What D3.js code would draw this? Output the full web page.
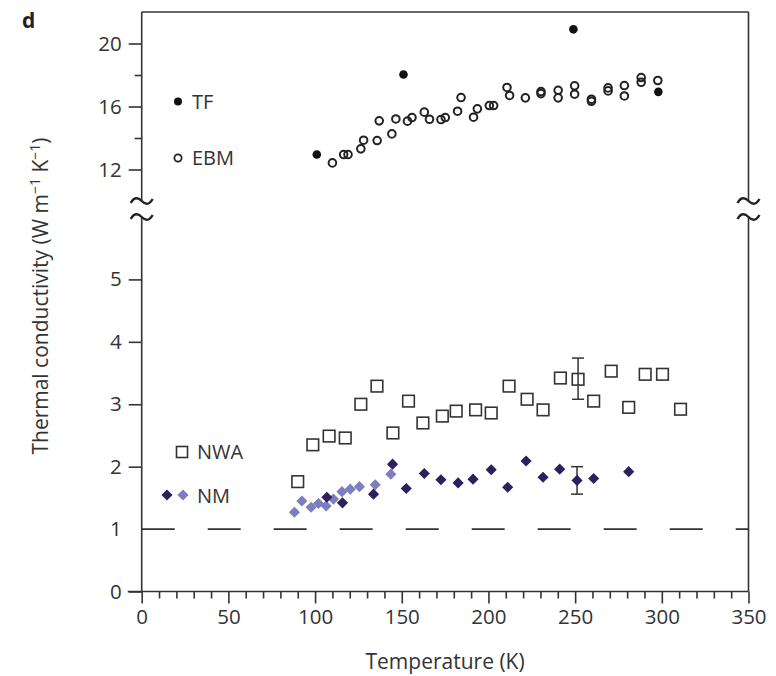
<!DOCTYPE html>
<html>
<head>
<meta charset="utf-8">
<script src="https://cdn.jsdelivr.net/npm/d3@7"></script>
<style>
  body { margin: 0; background: #fff; }
  svg { display: block; font-family: "Open Sans", sans-serif; }
  .tick text { fill: #333; font-size: 20.5px; }
</style>
</head>
<body>
<div id="chart"></div>
<script>
// TF (filled circles)
const tfT = [101, 151, 249, 298];
const tfK = [12.95, 18.03, 20.9, 16.93];

// EBM (open circles)
const ebmT = [110, 116.5, 119, 126.4, 128, 135.8, 137, 144.3, 146.6, 153.3, 155.9, 163, 166, 172.6, 175.1,
  182.2, 184.2, 191.4, 193.6, 200.5, 203, 210.7, 212.2, 221.3, 230.3, 230.3, 240.2, 240.2, 249.7, 249.7,
  259.4, 259.4, 269, 269, 278.4, 278.4, 288.1, 288.1, 297.7];
const ebmK = [12.42, 12.95, 12.95, 13.31, 13.86, 13.84, 15.09, 14.26, 15.21, 15.07, 15.3, 15.64, 15.19, 15.17, 15.3,
  15.7, 16.57, 15.32, 15.85, 16.06, 16.06, 17.21, 16.7, 16.55, 16.95, 16.82, 17.03, 16.55, 17.31, 16.78,
  16.46, 16.33, 17.18, 16.99, 17.33, 16.67, 17.84, 17.54, 17.65];

// NWA (open squares)
const nwaT = [90, 98.7, 108.1, 117.4, 126.4, 135.7, 144.9, 153.9, 162.2, 173.4, 181.4, 192.6, 201.6, 211.9,
  222.3, 231.5, 241.5, 251.7, 260.7, 270.8, 280.9, 290.4, 300.4, 310.8];
const nwaK = [1.76, 2.35, 2.49, 2.46, 3.0, 3.29, 2.54, 3.05, 2.70, 2.81, 2.89, 2.91, 2.86, 3.29,
  3.08, 2.91, 3.42, 3.40, 3.05, 3.53, 2.95, 3.48, 3.48, 2.92];

// NM, dark diamonds
const nmDarkT = [106.8, 115.8, 133.7, 144.7, 152.6, 163, 172.6, 182.5, 191.1, 201.6, 211.1, 221.7, 231.5,
  241.1, 251.1, 260.7, 280.9];
const nmDarkK = [1.51, 1.42, 1.56, 2.04, 1.65, 1.89, 1.79, 1.74, 1.80, 1.95, 1.67, 2.09, 1.83,
  1.96, 1.78, 1.81, 1.92];

// NM, light diamonds
const nmLightT = [88.1, 92.4, 97.7, 102, 106.4, 110.6, 115.5, 120.3, 125.6, 134.7, 143.7];
const nmLightK = [1.27, 1.45, 1.35, 1.41, 1.37, 1.48, 1.60, 1.64, 1.68, 1.71, 1.88];

// error bars: [T, low, high]
const errBars = [[251.7, 3.08, 3.74], [251.1, 1.56, 2.0]];

const xTicks = [0, 50, 100, 150, 200, 250, 300, 350];
const yLowTicks = [0, 1, 2, 3, 4, 5];
const yHighTicks = [12, 16, 20];
const yHighMinor = [14, 18];

const width = 776, height = 676;
const svg = d3.select("#chart").append("svg")
    .attr("width", width)
    .attr("height", height);

const x = d3.scaleLinear().domain([0, 350]).range([141.7, 748.5]);
const yLow = d3.scaleLinear().domain([0, 6]).range([591.5, 217]);
const yHigh = d3.scaleLinear().domain([10, 22]).range([201, 12]);

const ink = "#333";
const xLeft = x(0), xRight = x(350), yTop = yHigh(22), yBottom = yLow(0);
const breakHi = yHigh(10), breakLo = yLow(6);

// frame lines
const frame = svg.append("g").attr("stroke", ink).attr("stroke-width", 1.6).attr("fill", "none");
frame.append("line").attr("x1", xLeft).attr("x2", xRight).attr("y1", yTop).attr("y2", yTop);
[xLeft, xRight].forEach(px => {
    frame.append("line").attr("x1", px).attr("x2", px).attr("y1", yTop).attr("y2", breakHi);
    frame.append("line").attr("x1", px).attr("x2", px).attr("y1", breakLo).attr("y2", yBottom);
});
frame.append("line").attr("x1", xLeft - 14).attr("x2", xRight).attr("y1", yBottom).attr("y2", yBottom);

// break marks (two tildes on each side)
const tilde = "M-11,2 C-7,-5 -3,-3 0,0 S7,5 11,-2";
[xLeft, xRight].forEach(px => {
    [breakHi, breakLo].forEach(py => {
        svg.append("path")
            .attr("d", tilde)
            .attr("transform", `translate(${px},${py})`)
            .attr("fill", "none")
            .attr("stroke", "#222")
            .attr("stroke-width", 2.4);
    });
});

// y axes
const gLow = svg.append("g").attr("transform", `translate(${xLeft},0)`)
    .call(d3.axisLeft(yLow).tickValues(yLowTicks).tickSize(13).tickPadding(7).tickFormat(d3.format("d")));
gLow.select(".domain").remove();
gLow.selectAll(".tick line").attr("stroke", ink).attr("stroke-width", 1.6)
    .filter(d => d === 1).remove();

const gHigh = svg.append("g").attr("transform", `translate(${xLeft},0)`)
    .call(d3.axisLeft(yHigh).tickValues(yHighTicks).tickSize(13).tickPadding(7).tickFormat(d3.format("d")));
gHigh.select(".domain").remove();
gHigh.selectAll(".tick line").attr("stroke", ink).attr("stroke-width", 1.6);

const gHighMinor = svg.append("g").attr("transform", `translate(${xLeft},0)`)
    .call(d3.axisLeft(yHigh).tickValues(yHighMinor).tickSize(7).tickFormat(""));
gHighMinor.select(".domain").remove();
gHighMinor.selectAll(".tick line").attr("stroke", ink).attr("stroke-width", 1.6);

// x axis
const gx = svg.append("g").attr("transform", `translate(0,${yBottom})`)
    .call(d3.axisBottom(x).tickValues(xTicks).tickSize(12).tickPadding(6));
gx.select(".domain").remove();
gx.selectAll(".tick line").attr("stroke", ink).attr("stroke-width", 1.6);

const gxMinor = svg.append("g").attr("transform", `translate(0,${yBottom})`)
    .call(d3.axisBottom(x).tickValues(d3.range(10, 350, 10).filter(v => v % 50 !== 0)).tickSize(7).tickFormat(""));
gxMinor.select(".domain").remove();
gxMinor.selectAll(".tick line").attr("stroke", ink).attr("stroke-width", 1.6);

svg.selectAll(".tick text").attr("font-family", "'Open Sans', sans-serif");

// dashed reference line at 1
svg.append("line")
    .attr("x1", xLeft).attr("x2", xRight)
    .attr("y1", yLow(1)).attr("y2", yLow(1))
    .attr("stroke", ink).attr("stroke-width", 1.6)
    .attr("stroke-dasharray", "33,33");

// error bars
errBars.forEach(([t, lo, hi]) => {
    const g = svg.append("g").attr("stroke", ink).attr("stroke-width", 1.5);
    g.append("line").attr("x1", x(t)).attr("x2", x(t)).attr("y1", yLow(lo)).attr("y2", yLow(hi));
    [lo, hi].forEach(v => g.append("line").attr("x1", x(t) - 6).attr("x2", x(t) + 6)
        .attr("y1", yLow(v)).attr("y2", yLow(v)));
});

const zip = (a, b) => a.map((t, i) => [t, b[i]]);
const diamond = d3.symbol().type(d3.symbolSquare).size(62);

// NWA squares
svg.append("g").selectAll("rect")
    .data(zip(nwaT, nwaK)).join("rect")
    .attr("x", d => x(d[0]) - 5.8).attr("y", d => yLow(d[1]) - 5.8)
    .attr("width", 11.6).attr("height", 11.6)
    .attr("fill", "none").attr("stroke", ink).attr("stroke-width", 1.6);

// NM light + dark
svg.append("g").selectAll("path")
    .data(zip(nmLightT, nmLightK)).join("path")
    .attr("d", diamond)
    .attr("transform", d => `translate(${x(d[0])},${yLow(d[1])}) rotate(45)`)
    .attr("fill", "#7b7fbd");
svg.append("g").selectAll("path")
    .data(zip(nmDarkT, nmDarkK)).join("path")
    .attr("d", diamond)
    .attr("transform", d => `translate(${x(d[0])},${yLow(d[1])}) rotate(45)`)
    .attr("fill", "#2e1f5e");

// EBM open circles
svg.append("g").selectAll("circle")
    .data(zip(ebmT, ebmK)).join("circle")
    .attr("cx", d => x(d[0])).attr("cy", d => yHigh(d[1]))
    .attr("r", 3.8)
    .attr("fill", "none").attr("stroke", "#222").attr("stroke-width", 2);

// TF filled circles
svg.append("g").selectAll("circle")
    .data(zip(tfT, tfK)).join("circle")
    .attr("cx", d => x(d[0])).attr("cy", d => yHigh(d[1]))
    .attr("r", 4.3)
    .attr("fill", "#111");

// legend
const leg = svg.append("g").attr("font-size", 20).attr("fill", ink);
leg.append("circle").attr("cx", 178).attr("cy", 101.5).attr("r", 4).attr("fill", "#111");
leg.append("text").attr("x", 192).attr("y", 108.5).text("TF");
leg.append("circle").attr("cx", 178).attr("cy", 158).attr("r", 3.6)
    .attr("fill", "none").attr("stroke", "#222").attr("stroke-width", 1.8);
leg.append("text").attr("x", 192).attr("y", 165).text("EBM");
leg.append("rect").attr("x", 176.5).attr("y", 446.5).attr("width", 11).attr("height", 11)
    .attr("fill", "none").attr("stroke", ink).attr("stroke-width", 1.6);
leg.append("text").attr("x", 197).attr("y", 459).text("NWA");
leg.append("path").attr("d", diamond).attr("transform", "translate(167,495) rotate(45)").attr("fill", "#2e1f5e");
leg.append("path").attr("d", diamond).attr("transform", "translate(183,495) rotate(45)").attr("fill", "#7b7fbd");
leg.append("text").attr("x", 197).attr("y", 502.5).text("NM");

// panel letter
svg.append("text").attr("x", 22).attr("y", 28)
    .attr("font-size", 21).attr("font-weight", "bold").attr("fill", "#222")
    .text("d");

// axis titles
svg.append("text")
    .attr("x", (xLeft + xRight) / 2).attr("y", 669)
    .attr("text-anchor", "middle").attr("font-size", 21).attr("fill", ink)
    .text("Temperature (K)");

const yt = svg.append("text")
    .attr("transform", "translate(48,296) rotate(-90)")
    .attr("text-anchor", "middle").attr("font-size", 21).attr("fill", ink);
yt.append("tspan").text("Thermal conductivity (W m");
yt.append("tspan").attr("dy", -8).attr("font-size", 14).text("\u22121");
yt.append("tspan").attr("dy", 8).text(" K");
yt.append("tspan").attr("dy", -8).attr("font-size", 14).text("\u22121");
yt.append("tspan").attr("dy", 8).text(")");
</script>
</body>
</html>
